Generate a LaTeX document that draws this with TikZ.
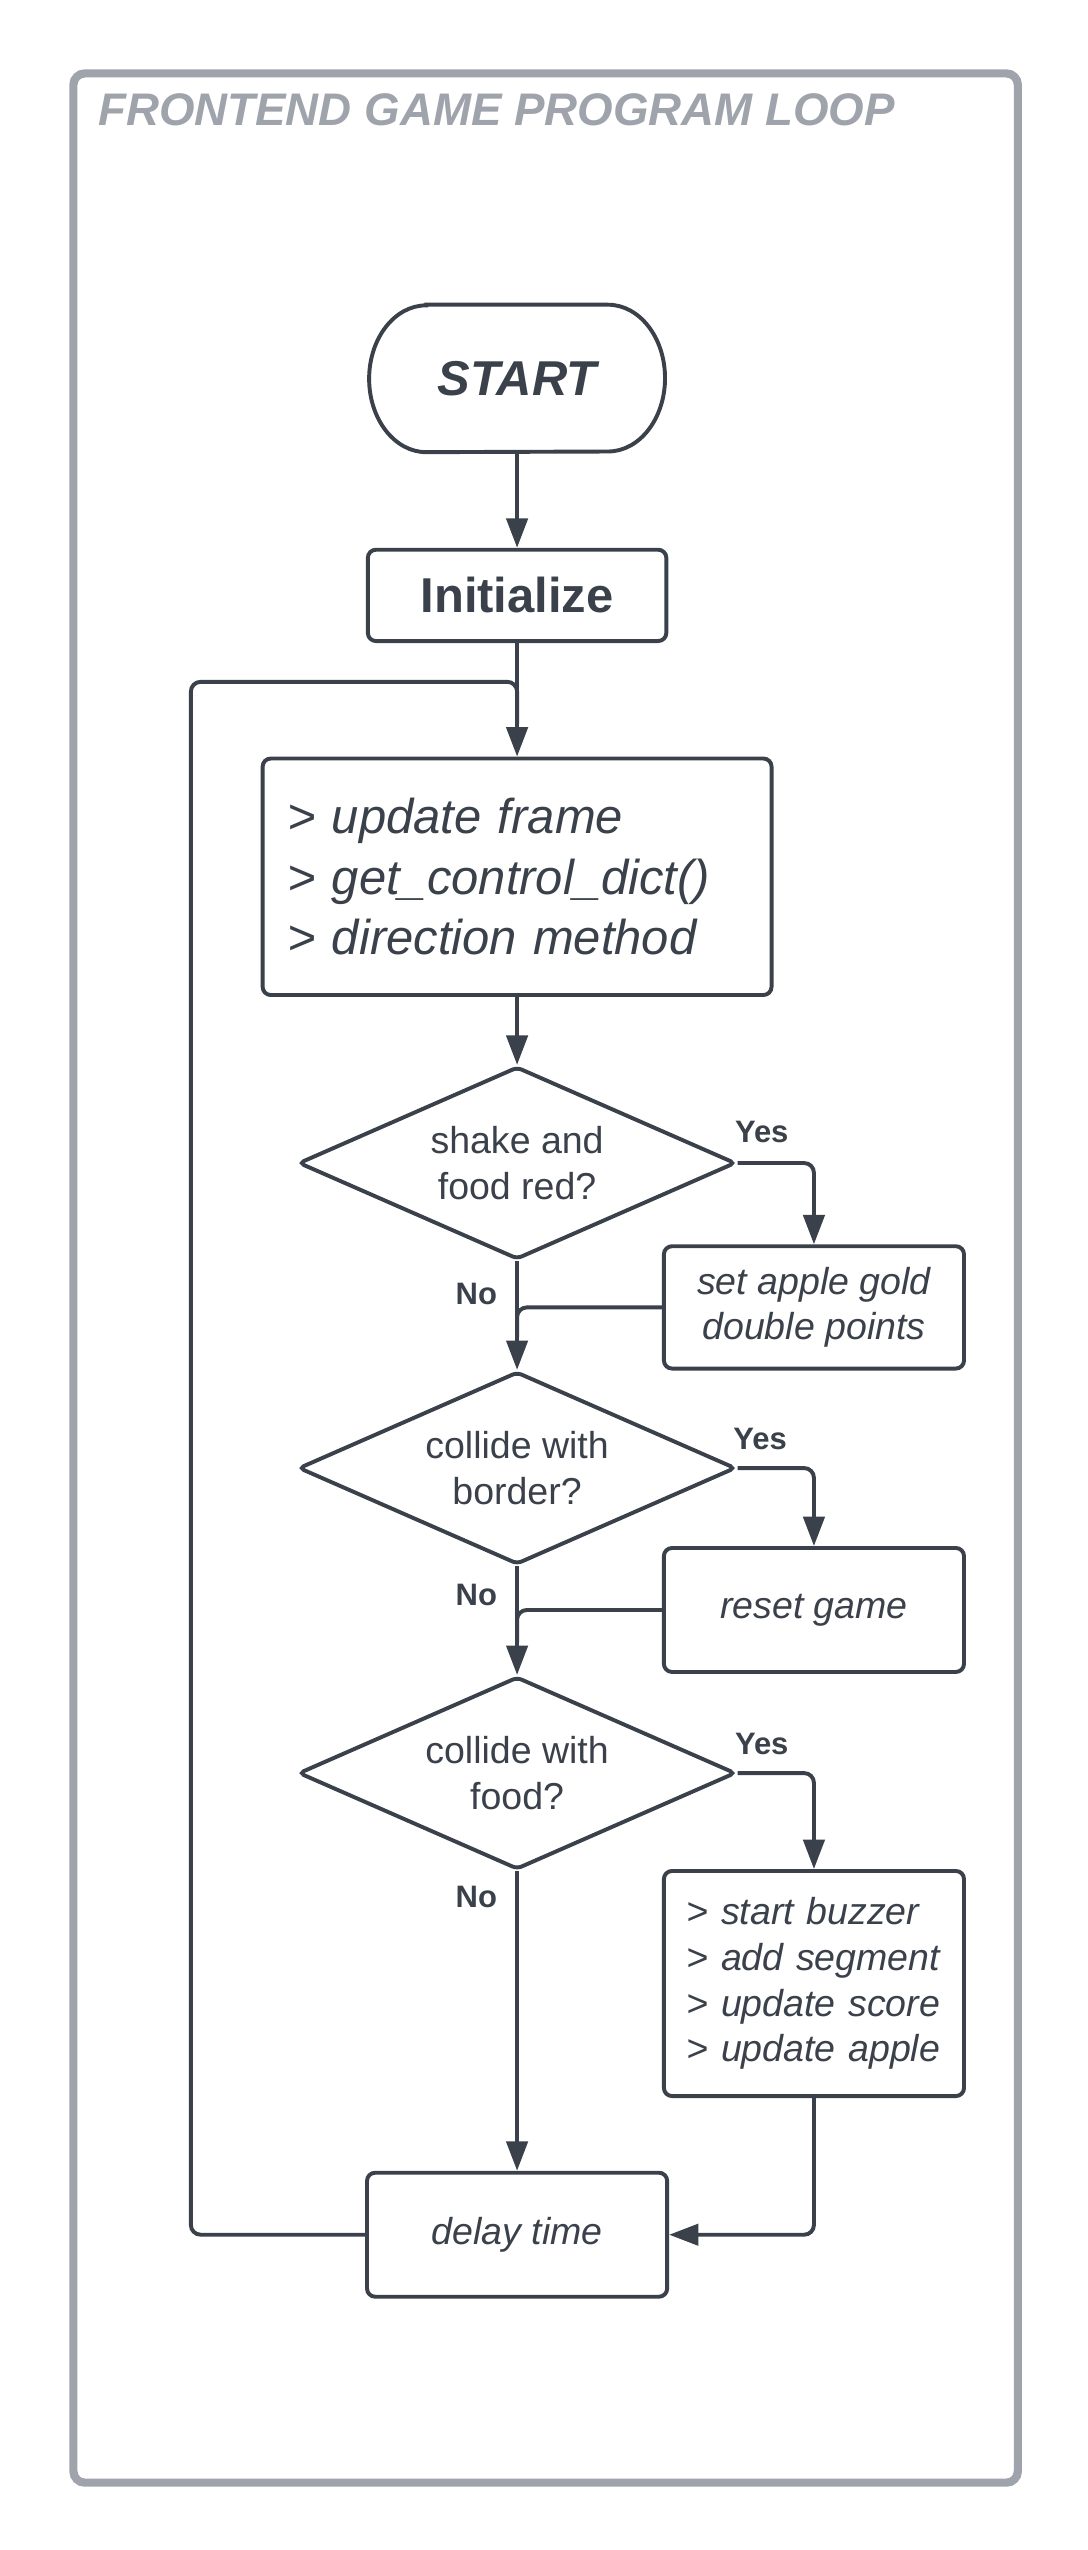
\documentclass[tikz,border=0pt]{standalone}
\usepackage{fontspec}
\setmainfont{Liberation Sans}
\usetikzlibrary{shapes.geometric,arrows.meta,calc}
\definecolor{ink}{HTML}{3A414A}
\definecolor{framegray}{HTML}{9FA4AC}
\begin{document}
\begin{tikzpicture}[x=1pt,y=-1pt,
 every node/.style={text=ink},
 box/.style={draw=ink, line width=2.4pt, rounded corners=5pt, minimum width=184pt, minimum height=76pt, inner sep=0pt, align=center, font=\fontsize{23}{28}\selectfont\itshape},
 dec/.style={draw=ink, line width=2.4pt, shape=diamond, rounded corners=3pt, minimum width=268pt, minimum height=118pt, inner sep=0pt, aspect=2.27, align=center, font=\fontsize{23}{28}\selectfont},
 conn/.style={draw=ink, line width=2.4pt, rounded corners=6pt},
 arr/.style={conn, -{Triangle[length=18pt,width=13pt]}},
 lab/.style={font=\fontsize{19}{22}\selectfont\bfseries, inner sep=0pt}]
\fill[white] (0,0) rectangle (667,1563.3);
\useasboundingbox (0,0) rectangle (667,1563.3);
\draw[framegray, line width=5pt, rounded corners=7pt] (45,45) rectangle (624,1522);
\node[anchor=base west, text=framegray, font=\fontsize{28}{30}\selectfont\bfseries\itshape, inner sep=0pt] (title) at (60,77) {FRONTEND GAME PROGRAM LOOP};

\node[font=\fontsize{30}{36}\selectfont\bfseries\itshape, minimum width=181pt, minimum height=90pt, inner sep=0pt] (start) at (317,232) {START};
\draw[draw=ink, line width=2.4pt] ([xshift=35pt]start.north west) -- ([xshift=-35pt]start.north east) arc[start angle=90,end angle=-90,x radius=35pt,y radius=45pt] -- ([xshift=35pt]start.south west) arc[start angle=270,end angle=90,x radius=35pt,y radius=45pt] -- cycle;

\node[box, font=\fontsize{30}{36}\selectfont\bfseries, minimum width=183pt, minimum height=56pt] (init) at (317,365) {Initialize};
\node[box, font=\fontsize{30}{37}\selectfont\itshape, minimum width=312pt, minimum height=145pt, text width=282pt, align=left, inner xsep=15pt] (proc) at (317,537.5) {> update frame\\> get\_control\_dict()\\> direction method};

\node[dec] (d1) at (317,713) {shake and\\food red?};
\node[box, minimum height=75pt] (b1) at (499,801.5) {set apple gold\\double points};
\node[dec] (d2) at (317,900) {collide with\\border?};
\node[box] (b2) at (499,987) {reset game};
\node[dec] (d3) at (317,1087) {collide with\\food?};
\node[box, minimum height=138pt, text width=156pt, align=left, inner xsep=14pt] (b3) at (499,1216) {> start buzzer\\> add segment\\> update score\\> update apple};
\node[box] (delay) at (317,1370) {delay time};

\node[lab] (y1) at (467,694) {Yes};
\node[lab] (n1) at (292,793) {No};
\node[lab] (y2) at (466,882) {Yes};
\node[lab] (n2) at (292,978) {No};
\node[lab] (y3) at (467,1069) {Yes};
\node[lab] (n3) at (292,1163) {No};

\coordinate (loopc) at (117,418);

\draw[arr] (start.south) -- (init.north);
\draw[arr] (init.south) -- (proc.north);
\draw[arr] (proc.south) -- (d1.north);
\draw[arr] (d1.east) -| (b1.north);
\draw[arr] (d1.south) -- (d2.north);
\draw[conn] (b1.west) -| ([yshift=20pt]d2.north);
\draw[arr] (d2.east) -| (b2.north);
\draw[arr] (d2.south) -- (d3.north);
\draw[conn] (b2.west) -| ([yshift=20pt]d3.north);
\draw[arr] (d3.east) -| (b3.north);
\draw[arr] (d3.south) -- (delay.north);
\draw[arr] (b3.south) |- (delay.east);
\draw[conn] (delay.west) -| (loopc) -| ([yshift=20pt]proc.north);
\end{tikzpicture}
\end{document}
